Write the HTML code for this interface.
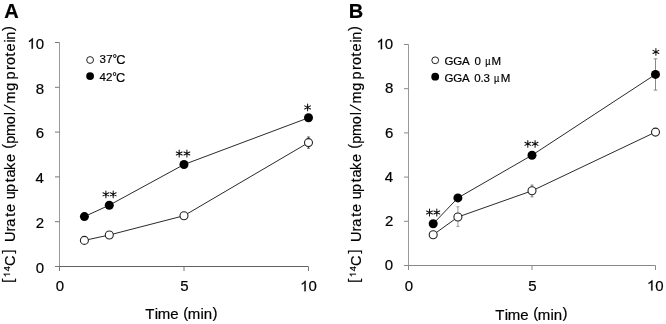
<!DOCTYPE html><html><head><meta charset="utf-8"><style>html,body{margin:0;padding:0;background:#fff;overflow:hidden}svg{display:block;will-change:transform}text{stroke:#000;stroke-width:0.2px}</style></head><body>
<svg width="666" height="324" viewBox="0 0 666 324" font-family='"Liberation Sans", sans-serif' fill="#000">
<rect width="666" height="324" fill="#fff"/>
<text x="4.2" y="18.3" font-size="20" font-weight="bold">A</text>
<text x="348.8" y="18.3" font-size="20" font-weight="bold">B</text>
<path d="M59.5,42.5V266.5" stroke="#999" stroke-width="1" fill="none"/>
<path d="M59.0,266.5H308.5" stroke="#626262" stroke-width="1" fill="none"/>
<path d="M55.0,266.50H59.5" stroke="#777" stroke-width="1"/>
<text transform="translate(35.64,272.71) scale(1,1.0)" font-size="15">0</text>
<path d="M55.0,221.70H59.5" stroke="#777" stroke-width="1"/>
<text transform="translate(35.81,227.91) scale(1,1.0)" font-size="15">2</text>
<path d="M55.0,176.90H59.5" stroke="#777" stroke-width="1"/>
<text transform="translate(35.50,183.11) scale(1,1.0)" font-size="15">4</text>
<path d="M55.0,132.10H59.5" stroke="#777" stroke-width="1"/>
<text transform="translate(35.72,138.31) scale(1,1.0)" font-size="15">6</text>
<path d="M55.0,87.30H59.5" stroke="#777" stroke-width="1"/>
<text transform="translate(35.71,93.51) scale(1,1.0)" font-size="15">8</text>
<path d="M55.0,42.50H59.5" stroke="#777" stroke-width="1"/>
<path d="M763 0H583V1147C540 1106 483 1064 412 1023C342 981 279 950 223 929V1103C324 1150 412 1207 487 1274C562 1341 615 1405 646 1466H763Z" transform="translate(27.30,48.71) scale(0.00732,-0.00714)" fill="#000" stroke="#000" stroke-width="27.3"/><text transform="translate(35.64,48.71) scale(1,1.0)" font-size="15">0</text>
<path d="M59.50,266.5V271.0" stroke="#777" stroke-width="1"/>
<text transform="translate(55.83,291.26) scale(1,1.0)" font-size="15">0</text>
<path d="M184.00,266.5V271.0" stroke="#777" stroke-width="1"/>
<text transform="translate(180.34,291.26) scale(1,1.0)" font-size="15">5</text>
<path d="M308.50,266.5V271.0" stroke="#777" stroke-width="1"/>
<path d="M763 0H583V1147C540 1106 483 1064 412 1023C342 981 279 950 223 929V1103C324 1150 412 1207 487 1274C562 1341 615 1405 646 1466H763Z" transform="translate(300.13,291.26) scale(0.00732,-0.00714)" fill="#000" stroke="#000" stroke-width="27.3"/><text transform="translate(308.48,291.26) scale(1,1.0)" font-size="15">0</text>
<text x="145.27" y="318.90" font-size="15">T</text><text x="154.84" y="318.90" font-size="15">i</text><text x="157.85" y="318.90" font-size="15">m</text><text x="170.34" y="318.90" font-size="15">e</text><text x="183.13" y="317.50" font-size="15">(</text><text x="187.65" y="318.90" font-size="15">m</text><text x="200.49" y="318.90" font-size="15">i</text><text x="203.67" y="318.90" font-size="15">n</text><text x="212.57" y="317.50" font-size="15">)</text>
<path d="M308.50,137.0V148.2M307.20,137.0H309.80M307.20,148.2H309.80" stroke="#444" stroke-width="1"/>
<path d="M84.40,240.40L109.30,235.00L184.00,215.70L308.50,142.60" stroke="#2a2a2a" stroke-width="1" fill="none"/>
<path d="M84.40,216.60L109.30,205.20L184.00,164.50L308.50,117.80" stroke="#2a2a2a" stroke-width="1" fill="none"/>
<circle cx="84.40" cy="240.40" r="4" fill="#fff" stroke="#222" stroke-width="1.1"/>
<circle cx="109.30" cy="235.00" r="4" fill="#fff" stroke="#222" stroke-width="1.1"/>
<circle cx="184.00" cy="215.70" r="4" fill="#fff" stroke="#222" stroke-width="1.1"/>
<circle cx="308.50" cy="142.60" r="4" fill="#fff" stroke="#222" stroke-width="1.1"/>
<circle cx="84.40" cy="216.60" r="4.5" fill="#000"/>
<circle cx="109.30" cy="205.20" r="4.5" fill="#000"/>
<circle cx="184.00" cy="164.50" r="4.5" fill="#000"/>
<circle cx="308.50" cy="117.80" r="4.5" fill="#000"/>
<path d="M105.90,190.90L105.90,197.70M102.99,195.85L108.81,192.75M102.99,192.75L108.81,195.85" stroke="#111" stroke-width="1.05" stroke-linecap="round" fill="none"/><circle cx="105.90" cy="194.30" r="1.1" fill="#111"/>
<path d="M113.20,190.90L113.20,197.70M110.29,195.85L116.11,192.75M110.29,192.75L116.11,195.85" stroke="#111" stroke-width="1.05" stroke-linecap="round" fill="none"/><circle cx="113.20" cy="194.30" r="1.1" fill="#111"/>
<path d="M179.20,150.10L179.20,156.90M176.29,155.05L182.11,151.95M176.29,151.95L182.11,155.05" stroke="#111" stroke-width="1.05" stroke-linecap="round" fill="none"/><circle cx="179.20" cy="153.50" r="1.1" fill="#111"/>
<path d="M186.90,150.10L186.90,156.90M183.99,155.05L189.81,151.95M183.99,151.95L189.81,155.05" stroke="#111" stroke-width="1.05" stroke-linecap="round" fill="none"/><circle cx="186.90" cy="153.50" r="1.1" fill="#111"/>
<path d="M307.60,104.00L307.60,110.80M304.69,108.95L310.51,105.85M304.69,105.85L310.51,108.95" stroke="#111" stroke-width="1.05" stroke-linecap="round" fill="none"/><circle cx="307.60" cy="107.40" r="1.1" fill="#111"/>
<g transform="translate(15.2,282.9) rotate(-90)"><text x="16.92 40.81 51.37 56.11 66.13 70.83 83.68 90.96 100.68 105.36 113.03 120.93 139.26 146.91 158.77 167.74 179.36 192.18 203.51 213.02 217.87 226.53 231.53 240.29 243.21" y="0" font-size="14.5">CUrateuptakepmolmgprotein</text><text x="0.23 29.45 134.13 251.89" y="-2.2" font-size="14.5">[]()</text><path d="M172.1,-0.4L178.2,-11.3" stroke="#000" stroke-width="1.05"/><path d="M763 0H583V1147C540 1106 483 1064 412 1023C342 981 279 950 223 929V1103C324 1150 412 1207 487 1274C562 1341 615 1405 646 1466H763Z" transform="translate(5.68,-5.20) scale(0.00449,-0.00438)" fill="#000" stroke="#000" stroke-width="44.5"/><text x="11.57" y="-5.2" font-size="9.2">4</text></g>
<circle cx="90.1" cy="60" r="3.4" fill="#fff" stroke="#222" stroke-width="1"/>
<circle cx="90.1" cy="76.1" r="3.9" fill="#000"/>
<text x="99.44" y="63.40" font-size="11.5">3</text><text x="106.35" y="63.40" font-size="11.5">7</text><text x="112.60" y="61.50" font-size="11.5">°</text>
<text x="116.15" y="63.80" font-size="12.8">C</text>
<text x="99.39" y="81.40" font-size="11.5">4</text><text x="106.05" y="81.40" font-size="11.5">2</text><text x="112.20" y="79.80" font-size="11.5">°</text>
<text x="116.05" y="81.80" font-size="12.8">C</text>
<path d="M408.5,44.5V265.5" stroke="#999" stroke-width="1" fill="none"/>
<path d="M408.0,265.5H655.5" stroke="#888" stroke-width="1" fill="none"/>
<path d="M404.0,265.50H408.5" stroke="#888" stroke-width="1"/>
<text transform="translate(384.84,270.21) scale(1,1.0)" font-size="15">0</text>
<path d="M404.0,221.30H408.5" stroke="#888" stroke-width="1"/>
<text transform="translate(385.01,226.01) scale(1,1.0)" font-size="15">2</text>
<path d="M404.0,177.10H408.5" stroke="#888" stroke-width="1"/>
<text transform="translate(384.70,181.81) scale(1,1.0)" font-size="15">4</text>
<path d="M404.0,132.90H408.5" stroke="#888" stroke-width="1"/>
<text transform="translate(384.92,137.61) scale(1,1.0)" font-size="15">6</text>
<path d="M404.0,88.70H408.5" stroke="#888" stroke-width="1"/>
<text transform="translate(384.91,93.41) scale(1,1.0)" font-size="15">8</text>
<path d="M404.0,44.50H408.5" stroke="#888" stroke-width="1"/>
<path d="M763 0H583V1147C540 1106 483 1064 412 1023C342 981 279 950 223 929V1103C324 1150 412 1207 487 1274C562 1341 615 1405 646 1466H763Z" transform="translate(376.50,49.21) scale(0.00732,-0.00714)" fill="#000" stroke="#000" stroke-width="27.3"/><text transform="translate(384.84,49.21) scale(1,1.0)" font-size="15">0</text>
<path d="M408.50,265.5V270.0" stroke="#888" stroke-width="1"/>
<text transform="translate(404.63,290.61) scale(1,1.0)" font-size="15">0</text>
<path d="M532.00,265.5V270.0" stroke="#888" stroke-width="1"/>
<text transform="translate(528.14,290.61) scale(1,1.0)" font-size="15">5</text>
<path d="M655.50,265.5V270.0" stroke="#888" stroke-width="1"/>
<path d="M763 0H583V1147C540 1106 483 1064 412 1023C342 981 279 950 223 929V1103C324 1150 412 1207 487 1274C562 1341 615 1405 646 1466H763Z" transform="translate(646.93,290.61) scale(0.00732,-0.00714)" fill="#000" stroke="#000" stroke-width="27.3"/><text transform="translate(655.28,290.61) scale(1,1.0)" font-size="15">0</text>
<text x="495.27" y="319.60" font-size="15">T</text><text x="504.84" y="319.60" font-size="15">i</text><text x="507.85" y="319.60" font-size="15">m</text><text x="520.34" y="319.60" font-size="15">e</text><text x="533.13" y="318.20" font-size="15">(</text><text x="537.65" y="319.60" font-size="15">m</text><text x="550.49" y="319.60" font-size="15">i</text><text x="553.67" y="319.60" font-size="15">n</text><text x="562.57" y="318.20" font-size="15">)</text>
<path d="M457.90,206.8V226.4M456.40,206.8H459.40M456.40,226.4H459.40" stroke="#999" stroke-width="1"/>
<path d="M532.00,185.1V196.8M530.60,185.1H533.40M530.60,196.8H533.40" stroke="#777" stroke-width="1"/>
<path d="M655.50,58.8V90.1M653.70,58.8H657.30M653.70,90.1H657.30" stroke="#888" stroke-width="1"/>
<path d="M433.20,234.80L457.90,217.00L532.00,190.80L655.50,132.10" stroke="#2a2a2a" stroke-width="1" fill="none"/>
<path d="M433.20,223.80L457.90,197.90L532.00,155.20L655.50,74.40" stroke="#2a2a2a" stroke-width="1" fill="none"/>
<circle cx="433.20" cy="234.80" r="4" fill="#fff" stroke="#222" stroke-width="1.1"/>
<circle cx="457.90" cy="217.00" r="4" fill="#fff" stroke="#222" stroke-width="1.1"/>
<circle cx="532.00" cy="190.80" r="4" fill="#fff" stroke="#222" stroke-width="1.1"/>
<circle cx="655.50" cy="132.10" r="4" fill="#fff" stroke="#222" stroke-width="1.1"/>
<circle cx="433.20" cy="223.80" r="4.5" fill="#000"/>
<circle cx="457.90" cy="197.90" r="4.5" fill="#000"/>
<circle cx="532.00" cy="155.20" r="4.5" fill="#000"/>
<circle cx="655.50" cy="74.40" r="4.5" fill="#000"/>
<path d="M429.50,209.10L429.50,215.90M426.59,214.05L432.41,210.95M426.59,210.95L432.41,214.05" stroke="#111" stroke-width="1.05" stroke-linecap="round" fill="none"/><circle cx="429.50" cy="212.50" r="1.1" fill="#111"/>
<path d="M436.80,209.10L436.80,215.90M433.89,214.05L439.71,210.95M433.89,210.95L439.71,214.05" stroke="#111" stroke-width="1.05" stroke-linecap="round" fill="none"/><circle cx="436.80" cy="212.50" r="1.1" fill="#111"/>
<path d="M527.80,140.40L527.80,147.20M524.89,145.35L530.71,142.25M524.89,142.25L530.71,145.35" stroke="#111" stroke-width="1.05" stroke-linecap="round" fill="none"/><circle cx="527.80" cy="143.80" r="1.1" fill="#111"/>
<path d="M535.10,140.40L535.10,147.20M532.19,145.35L538.01,142.25M532.19,142.25L538.01,145.35" stroke="#111" stroke-width="1.05" stroke-linecap="round" fill="none"/><circle cx="535.10" cy="143.80" r="1.1" fill="#111"/>
<path d="M655.90,48.50L655.90,55.30M652.99,53.45L658.81,50.35M652.99,50.35L658.81,53.45" stroke="#111" stroke-width="1.05" stroke-linecap="round" fill="none"/><circle cx="655.90" cy="51.90" r="1.1" fill="#111"/>
<g transform="translate(361.2,282.9) rotate(-90)"><text x="16.92 40.81 51.37 56.11 66.13 70.83 83.68 90.96 100.68 105.36 113.03 120.93 139.26 146.91 158.77 167.74 179.36 192.18 203.51 213.02 217.87 226.53 231.53 240.29 243.21" y="0" font-size="14.5">CUrateuptakepmolmgprotein</text><text x="0.23 29.45 134.13 251.89" y="-2.2" font-size="14.5">[]()</text><path d="M172.1,-0.4L178.2,-11.3" stroke="#000" stroke-width="1.05"/><path d="M763 0H583V1147C540 1106 483 1064 412 1023C342 981 279 950 223 929V1103C324 1150 412 1207 487 1274C562 1341 615 1405 646 1466H763Z" transform="translate(5.68,-5.20) scale(0.00449,-0.00438)" fill="#000" stroke="#000" stroke-width="44.5"/><text x="11.57" y="-5.2" font-size="9.2">4</text></g>
<circle cx="435.2" cy="60.3" r="3.4" fill="#fff" stroke="#222" stroke-width="1"/>
<circle cx="435.2" cy="76.7" r="3.9" fill="#000"/>
<text x="444.62" y="64.60" font-size="11.5">G</text><text x="453.22" y="64.60" font-size="11.5">G</text><text x="461.91" y="64.60" font-size="11.5">A</text><text x="474.45" y="64.60" font-size="11.5">0</text><text x="491.61" y="64.60" font-size="11.5">M</text>
<text transform="translate(488.00,64.60) scale(0.8,1)" x="-3.57" font-size="11.5">µ</text>
<text x="444.62" y="81.50" font-size="11.5">G</text><text x="453.22" y="81.50" font-size="11.5">G</text><text x="461.91" y="81.50" font-size="11.5">A</text><text x="474.30" y="81.50" font-size="11.5">0</text><text x="480.50" y="81.50" font-size="11.5">.</text><text x="483.49" y="81.50" font-size="11.5">3</text><text x="500.81" y="81.50" font-size="11.5">M</text>
<text transform="translate(496.90,81.50) scale(0.8,1)" x="-3.57" font-size="11.5">µ</text>
</svg></body></html>
